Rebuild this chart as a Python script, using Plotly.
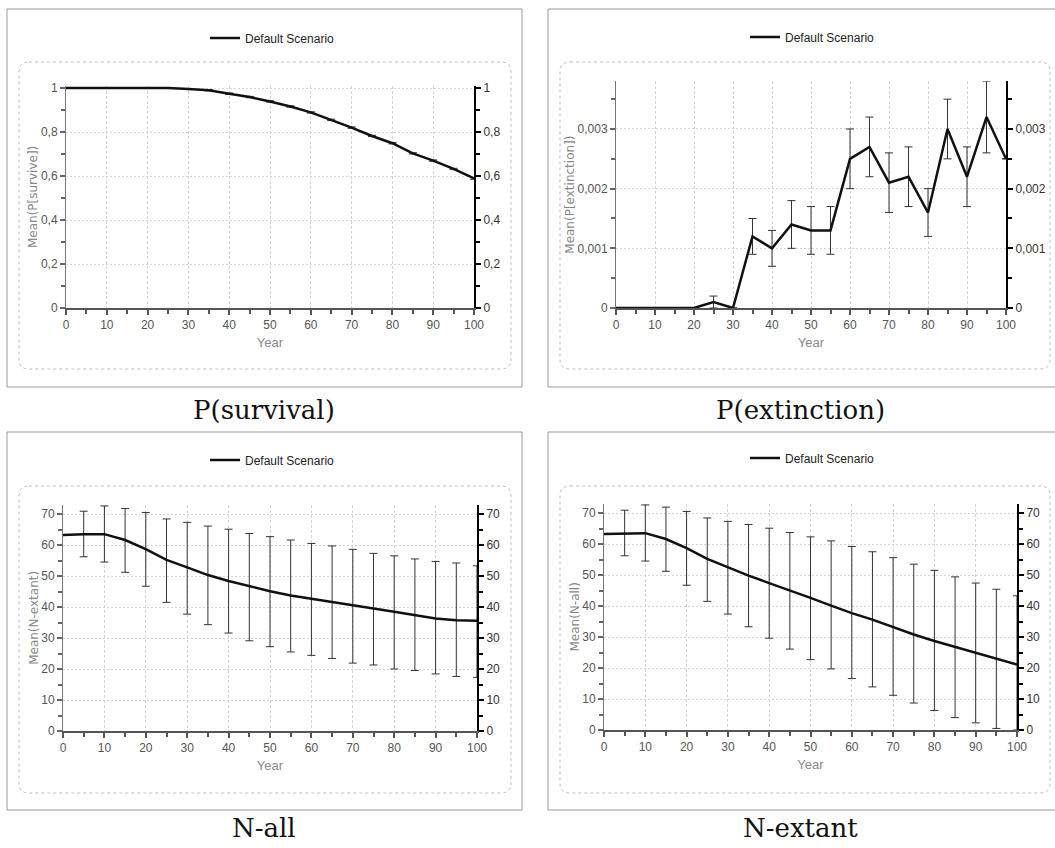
import plotly.graph_objects as go

W, H = 1055, 848

# ---------------- data ----------------
years = [0, 5, 10, 15, 20, 25, 30, 35, 40, 45, 50, 55, 60, 65, 70, 75, 80, 85, 90, 95, 100]

surv_mean = [1.0, 1.0, 1.0, 1.0, 1.0, 1.0, 0.995, 0.99, 0.974, 0.959, 0.939, 0.916, 0.889,
             0.855, 0.82, 0.782, 0.749, 0.703, 0.67, 0.632, 0.589]
surv_err = [0, 0, 0, 0, 0, 0.002, 0.002, 0.003, 0.003, 0.003, 0.003, 0.003, 0.003,
            0.003, 0.003, 0.003, 0.003, 0.003, 0.003, 0.003, 0.004]

ext_mean = [0, 0, 0, 0, 0, 0.0001, 0, 0.0012, 0.001, 0.0014, 0.0013, 0.0013, 0.0025,
            0.0027, 0.0021, 0.0022, 0.0016, 0.003, 0.0022, 0.0032, 0.0025]
ext_err = [0, 0, 0, 0, 0, 0.0001, 0, 0.0003, 0.0003, 0.0004, 0.0004, 0.0004, 0.0005,
           0.0005, 0.0005, 0.0005, 0.0004, 0.0005, 0.0005, 0.0006, 0]

nall_mean = [63.2, 63.5, 63.5, 61.6, 58.7, 55.2, 52.8, 50.3, 48.4, 46.7, 45.1, 43.7, 42.6,
             41.6, 40.5, 39.5, 38.5, 37.5, 36.3, 35.7, 35.6]
nall_upper = [63.2, 70.9, 72.6, 71.8, 70.5, 68.4, 67.3, 66.1, 65.1, 63.7, 62.7, 61.6, 60.5,
              59.7, 58.6, 57.3, 56.5, 55.5, 54.7, 54.2, 53.3]
nall_lower = [63.2, 56.2, 54.5, 51.2, 46.7, 41.5, 37.7, 34.3, 31.6, 29.1, 27.2, 25.5, 24.4,
              23.4, 21.9, 21.3, 20.0, 19.5, 18.4, 17.6, 17.3]

next_mean = [63.2, 63.3, 63.5, 61.6, 58.7, 55.2, 52.5, 49.8, 47.4, 45.1, 42.6, 40.1, 37.7,
             35.6, 33.2, 30.8, 28.7, 26.8, 24.7, 22.8, 21.1]
next_upper = [63.2, 70.9, 72.6, 71.9, 70.5, 68.4, 67.3, 66.3, 65.1, 63.7, 62.3, 61.0, 59.2,
              57.5, 55.6, 53.5, 51.5, 49.4, 47.4, 45.4, 43.3]
next_lower = [63.2, 56.2, 54.5, 51.2, 46.7, 41.5, 37.4, 33.3, 29.6, 26.1, 22.7, 19.7, 16.6,
              13.9, 11.2, 8.7, 6.3, 4.0, 2.3, 0.5, 0.0]

series_name = "Default Scenario"
x_title = "Year"
captions = ["P(survival)", "P(extinction)", "N-all", "N-extant"]
y_titles = ["Mean(P[survive])", "Mean(P[extinction])", "Mean(N-extant)", "Mean(N-all)"]

# ---------------- layout geometry (pixels) ----------------
panels = [
    dict(mean=surv_mean, up=[m + e for m, e in zip(surv_mean, surv_err)],
         lo=[m - e for m, e in zip(surv_mean, surv_err)],
         px0=66, px100=474, py0=308, ppu=220.0, ytop=1.01, dtick=0.2, minor=0.1,
         frame=(7, 9, 522, 387), box=(19, 62, 511, 369), leg=(205, 38), cap=(264, 410)),
    dict(mean=ext_mean, up=[m + e for m, e in zip(ext_mean, ext_err)],
         lo=[m - e for m, e in zip(ext_mean, ext_err)],
         px0=616, px100=1006, py0=308, ppu=59667.0, ytop=0.0038, dtick=0.001, minor=0.0005,
         frame=(548, 9, 1060, 387), box=(560, 62, 1050, 369), leg=(745, 37), cap=(800, 410)),
    dict(mean=nall_mean, up=nall_upper, lo=nall_lower,
         px0=63, px100=477, py0=731, ppu=3.1, ytop=73, dtick=10, minor=5,
         frame=(7, 432, 522, 810), box=(19, 486, 511, 793), leg=(205, 460), cap=(264, 828)),
    dict(mean=next_mean, up=next_upper, lo=next_lower,
         px0=604, px100=1017, py0=730, ppu=3.1, ytop=73, dtick=10, minor=5,
         frame=(548, 432, 1060, 810), box=(560, 486, 1050, 793), leg=(745, 458), cap=(800, 828)),
]

NARROW = "Liberation Sans Narrow, Liberation Sans, Roboto, sans-serif"


def px_x(v):
    return v / W


def px_y(v):
    return 1 - v / H


def rounded_path(x0, y0, x1, y1, r):
    def P(x, y):
        return f"{px_x(x):.5f},{px_y(y):.5f}"

    return (f"M {P(x0 + r, y0)} L {P(x1 - r, y0)} Q {P(x1, y0)} {P(x1, y0 + r)} "
            f"L {P(x1, y1 - r)} Q {P(x1, y1)} {P(x1 - r, y1)} "
            f"L {P(x0 + r, y1)} Q {P(x0, y1)} {P(x0, y1 - r)} "
            f"L {P(x0, y0 + r)} Q {P(x0, y0)} {P(x0 + r, y0)} Z")


fig = go.Figure()
layout = dict(
    width=W, height=H, margin=dict(l=0, r=0, t=0, b=0),
    paper_bgcolor="white", plot_bgcolor="white",
    separators=", ", showlegend=True, shapes=[], annotations=[],
)

for i, p in enumerate(panels, start=1):
    xa = "x" if i == 1 else f"x{i}"
    ya = "y" if i == 1 else f"y{i}"
    yr = f"y{i + 4}"
    legname = "legend" if i == 1 else f"legend{i}"
    err_plus = [u - m for u, m in zip(p["up"], p["mean"])]
    err_minus = [m - l for m, l in zip(p["mean"], p["lo"])]

    fig.add_trace(go.Scatter(
        x=years, y=p["mean"], mode="lines", name=series_name,
        xaxis=xa, yaxis=ya, legend=legname,
        line=dict(color="#111111", width=2.5),
        error_y=dict(type="data", symmetric=False, array=err_plus, arrayminus=err_minus,
                     color="#333333", thickness=1, width=4),
        hoverinfo="x+y",
    ))
    # companion trace on the right-hand axis
    fig.add_trace(go.Scatter(
        x=years, y=p["mean"], mode="lines", xaxis=xa, yaxis=yr, showlegend=False,
        line=dict(width=0, color="rgba(0,0,0,0)"), hoverinfo="skip",
    ))

    top_px = p["py0"] - p["ytop"] * p["ppu"]
    xdom = [px_x(p["px0"]), px_x(p["px100"])]
    ydom = [px_y(p["py0"]), px_y(top_px)]

    xkey = "xaxis" if i == 1 else f"xaxis{i}"
    ykey = "yaxis" if i == 1 else f"yaxis{i}"
    layout[xkey] = dict(
        domain=xdom, anchor=ya, range=[0, 100], dtick=10, tick0=0,
        showline=True, linecolor="#555555", linewidth=2,
        ticks="outside", ticklen=5, tickwidth=2, tickcolor="#555555",
        minor=dict(dtick=5, tick0=0, ticks="outside", ticklen=4, tickwidth=2, tickcolor="#555555",
                   showgrid=False),
        showgrid=True, gridcolor="#d4d4d4", gridwidth=1, griddash="3px,2px",
        zeroline=False, fixedrange=True,
        tickfont=dict(family=NARROW, size=12, color="#555555"),
        title=dict(text=x_title, font=dict(family=NARROW, size=13, color="#888888"), standoff=6),
        automargin=False,
    )
    layout[ykey] = dict(
        domain=ydom, anchor=xa, range=[0, p["ytop"]], dtick=p["dtick"], tick0=0,
        showline=True, linecolor="#777777", linewidth=1,
        ticks="outside", ticklen=5, tickwidth=2, tickcolor="#666666",
        minor=dict(dtick=p["minor"], tick0=0, ticks="outside", ticklen=4, tickwidth=2,
                   tickcolor="#666666", showgrid=False),
        showgrid=True, gridcolor="#d4d4d4", gridwidth=1, griddash="2px,2px",
        zeroline=False, fixedrange=True,
        tickfont=dict(family=NARROW, size=12, color="#555555"),
        title=dict(text=y_titles[i - 1], font=dict(family="DejaVu Sans", size=12, color="#888888"),
                   standoff=0),
        automargin=False,
    )
    layout[f"yaxis{i + 4}"] = dict(
        overlaying=ya, anchor=xa, side="right", range=[0, p["ytop"]], dtick=p["dtick"], tick0=0,
        showline=True, linecolor="#000000", linewidth=2,
        ticks="outside", ticklen=5, tickwidth=2, tickcolor="#000000",
        minor=dict(dtick=p["minor"], tick0=0, ticks="outside", ticklen=4, tickwidth=2,
                   tickcolor="#000000", showgrid=False),
        showgrid=False, zeroline=False, fixedrange=True,
        tickfont=dict(family=NARROW, size=12, color="#333333"),
        automargin=False,
    )

    layout[legname] = dict(
        x=px_x(p["leg"][0]), y=px_y(p["leg"][1]), xanchor="left", yanchor="middle",
        orientation="h", bgcolor="rgba(0,0,0,0)", borderwidth=0,
        font=dict(family=NARROW, size=12, color="#222222"),
    )

    fx0, fy0, fx1, fy1 = p["frame"]
    layout["shapes"].append(dict(
        type="rect", xref="paper", yref="paper",
        x0=px_x(fx0), x1=px_x(fx1), y0=px_y(fy1), y1=px_y(fy0),
        line=dict(color="#9a9a9a", width=1), layer="below",
    ))
    bx0, by0, bx1, by1 = p["box"]
    layout["shapes"].append(dict(
        type="path", xref="paper", yref="paper", path=rounded_path(bx0, by0, bx1, by1, 10),
        line=dict(color="#bdbdbd", width=1, dash="dot"), layer="below",
    ))
    layout["annotations"].append(dict(
        text=captions[i - 1], xref="paper", yref="paper",
        x=px_x(p["cap"][0]), y=px_y(p["cap"][1]), xanchor="center", yanchor="middle",
        showarrow=False, font=dict(family="DejaVu Serif", size=26, color="#111111"),
    ))

fig.update_layout(**layout)
fig.write_html("out.html")
